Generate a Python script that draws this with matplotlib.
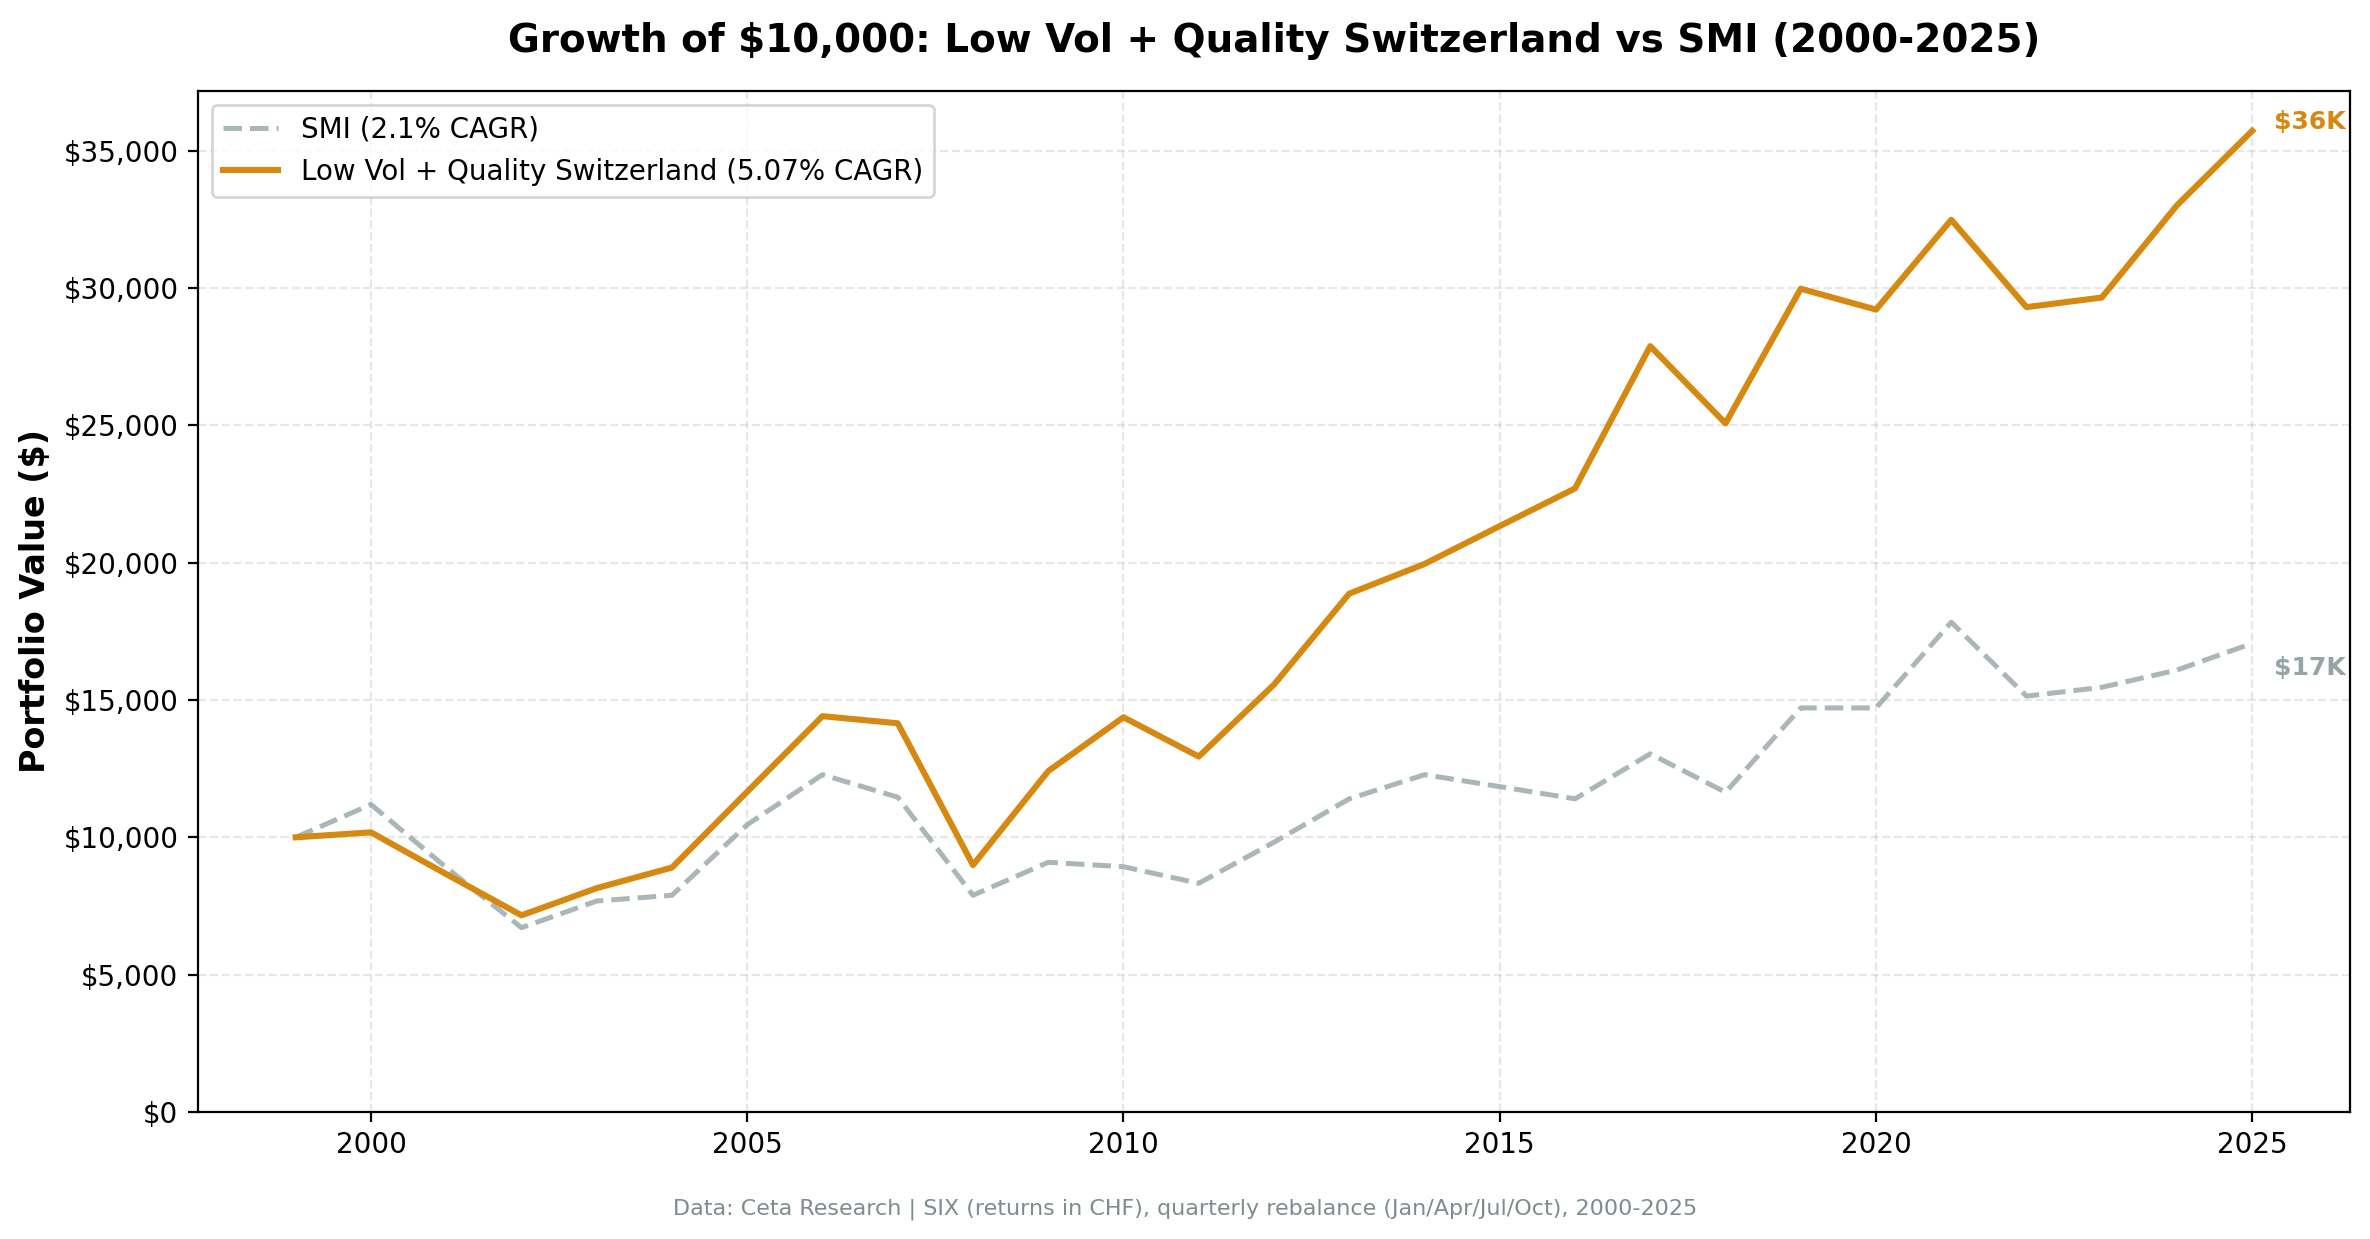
import matplotlib
matplotlib.use("Agg")
import matplotlib.pyplot as plt
from matplotlib.ticker import FuncFormatter

years = list(range(1999, 2026))
strategy = [10000, 10180, 8660, 7160, 8150, 8900, 11660, 14410, 14150, 8990,
            12410, 14370, 12940, 15560, 18870, 19950, 21330, 22700, 27880, 25070,
            29970, 29210, 32480, 29300, 29650, 33010, 35720]
smi = [10000, 11195, 8900, 6710, 7680, 7890, 10460, 12280, 11460, 7890,
       9090, 8930, 8325, 9820, 11400, 12280, 11845, 11400, 13040, 11640,
       14710, 14710, 17830, 15140, 15460, 16090, 17060]
smi_label = "SMI (2.1% CAGR)"
strat_label = "Low Vol + Quality Switzerland (5.07% CAGR)"
title = "Growth of $10,000: Low Vol + Quality Switzerland vs SMI (2000-2025)"
footer = "Data: Ceta Research | SIX (returns in CHF), quarterly rebalance (Jan/Apr/Jul/Oct), 2000-2025"

ORANGE = "#d68910"
GRAY = "#95a5a6"

fig = plt.figure(figsize=(11.85, 6.195), dpi=200)
ax = fig.add_axes([0.0835, 0.1025, 0.9081, 0.8241])

ax.plot(years, smi, color=GRAY, lw=1.8, ls="--", alpha=0.8, label=smi_label)
ax.plot(years, strategy, color=ORANGE, lw=2.2, label=strat_label)

ax.annotate("$36K", xy=(years[-1], strategy[-1]), xytext=(8, 3),
            textcoords="offset points", color=ORANGE, fontsize=9,
            fontweight="bold", va="center", ha="left")
ax.annotate("$17K", xy=(years[-1], smi[-1]), xytext=(8, -9),
            textcoords="offset points", color=GRAY, fontsize=9,
            fontweight="bold", va="center", ha="left")

ax.set_ylim(bottom=0)
ax.set_xticks([2000, 2005, 2010, 2015, 2020, 2025])
ax.yaxis.set_major_formatter(FuncFormatter(lambda v, p: f"${v:,.0f}"))
ax.tick_params(labelsize=10)
ax.grid(True, ls="--", alpha=0.3)
ax.set_ylabel("Portfolio Value ($)", fontsize=12, fontweight="bold")
ax.set_title(title, fontsize=14, fontweight="bold", pad=14)
ax.legend(loc="upper left", fontsize=10)

fig.text(0.5, 0.024, footer, ha="center", va="center", fontsize=8, color="#7f8c8d")

fig.savefig("out.png", dpi=200)
